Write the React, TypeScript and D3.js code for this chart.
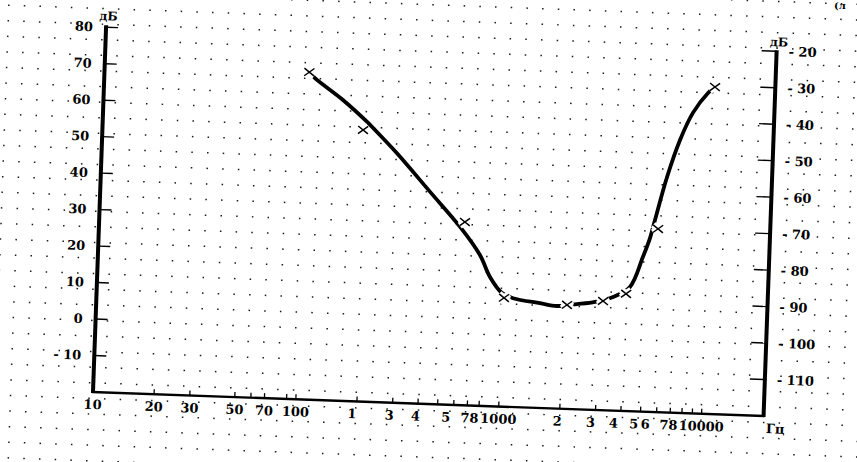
import React from 'react';
import * as d3 from 'd3';

const W = 857;
const H = 462;

// measured points (×)
const markerFreq = [102, 192, 632, 1016, 2080, 3126, 4046, 5662, 10190];
const markerDb = [69.7, 54.4, 30.2, 9.8, 8.5, 9.9, 12.1, 30.2, 69.6];

// smooth fitted curve
const curveFreq = [102, 109, 151, 198, 220, 284, 421, 600, 760, 859, 991, 1125, 1531, 1858, 2328, 2856, 3494, 4214, 4826, 5188, 5449, 6140, 7000, 8020, 9440, 10190];
const curveDb = [69.7, 68.1, 62.4, 56.9, 54.5, 48.4, 38.1, 28.8, 21.3, 15.4, 11.1, 9.8, 8.7, 8.1, 8.8, 9.6, 11.1, 14.0, 22.4, 27.6, 32.6, 44.5, 54.7, 62.3, 67.9, 69.6];

const leftTicks = [-10, 0, 10, 20, 30, 40, 50, 60, 70, 80];
const rightTicks = [-110, -100, -90, -80, -70, -60, -50, -40, -30, -20];
const freqTicks = [20, 30, 50, 60, 70, 90, 100, 200, 300, 400, 500, 600, 700, 800, 1000, 2000, 3000, 4000, 5000, 6000, 7000, 8000, 9000, 10000];
const freqLabelAt = [10, 20, 30, 50, 70, 100, 190, 290, 390, 550, 720, 1000, 1950, 2850, 3700, 4650, 5300, 6900, 10000];
const freqLabelText = ['10', '20', '30', '50', '70', '100', '1', '3', '4', '5', '78', '1000', '2', '3', '4', '5', '6', '78', '10000'];

const FONT = '"DejaVu Serif", serif';

export default function App() {
  const plotW = 671;
  const plotH = 365;
  const x = d3.scaleLog().domain([10, 10 * Math.pow(10, plotW / 203)]).range([0, plotW]);
  const y = d3.scaleLinear().domain([-20, 80]).range([0, -plotH]);
  const yR = d3.scaleLinear().domain([-120, -20]).range([0, -plotH]);

  const curvePts: [number, number][] = curveFreq.map((f, i) => [x(f), y(curveDb[i])]);
  const line = d3.line().curve(d3.curveCatmullRom.alpha(0.5));
  const pathD = line(curvePts) || '';

  const dots: [number, number][] = [];
  for (const u of d3.range(11.2 - 15.7 * 8, 800, 15.7)) {
    for (const v of d3.range(5.7 - 15.6 * 28, 110, 15.6)) {
      dots.push([u, v]);
    }
  }

  const cross = (cx: number, cy: number) =>
    `M${cx - 5},${cy - 3.8}L${cx + 5},${cy + 3.8}M${cx - 5},${cy + 3.8}L${cx + 5},${cy - 3.8}`;

  return (
    <svg width={W} height={H} style={{ position: 'absolute', left: 0, top: 0, background: '#fff' }} fontFamily={FONT}>
      <rect width={W} height={H} fill="#fff" />
      <g transform="translate(93,392) rotate(2.05)">
        {dots.map(([u, v], i) => (
          <rect key={i} x={u} y={v} width={1.5} height={1.5} fill="#1a1a1a" />
        ))}
        {/* curve */}
        <path d={pathD} fill="none" stroke="#000" strokeWidth={3.8} strokeLinecap="round" />
        {/* markers with halo */}
        {markerFreq.map((f, i) => (
          <path key={'h' + i} d={cross(x(f), y(markerDb[i]))} stroke="#fff" strokeWidth={7} />
        ))}
        {markerFreq.map((f, i) => (
          <path key={i} d={cross(x(f), y(markerDb[i]))} stroke="#000" strokeWidth={1.5} fill="none" />
        ))}
        {/* axes */}
        <line x1={-1} y1={0} x2={plotW + 1} y2={0} stroke="#000" strokeWidth={2.4} />
        <line x1={0} y1={1} x2={0} y2={-plotH - 2} stroke="#000" strokeWidth={4} />
        <line x1={plotW} y1={1} x2={plotW} y2={-plotH - 1} stroke="#000" strokeWidth={4} />
        {leftTicks.map((t) => (
          <g key={t}>
            <line x1={0} y1={y(t)} x2={12} y2={y(t)} stroke="#000" strokeWidth={1.4} />
            <text x={-13} y={y(t) + 4.5} textAnchor="end" fontSize={13} fontWeight="bold">
              {t < 0 ? `- ${-t}` : String(t)}
            </text>
          </g>
        ))}
        {rightTicks.map((t) => (
          <g key={t}>
            <line x1={plotW - 15} y1={yR(t)} x2={plotW} y2={yR(t)} stroke="#000" strokeWidth={1.4} />
            <text x={plotW + 12} y={yR(t) + 4.5} textAnchor="start" fontSize={13} fontWeight="bold">
              {`- ${-t}`}
            </text>
          </g>
        ))}
        {freqTicks.map((f) => (
          <line key={f} x1={x(f)} y1={0} x2={x(f)} y2={-5} stroke="#000" strokeWidth={1.3} />
        ))}
        {freqLabelAt.map((f, i) => (
          <text key={i} x={x(f)} y={17} textAnchor="middle" fontSize={13} fontWeight="bold">
            {freqLabelText[i]}
          </text>
        ))}
        <text x={683} y={17} textAnchor="middle" fontSize={13} fontWeight="bold">Гц</text>
        <text x={2} y={-372} textAnchor="middle" fontSize={12} fontWeight="bold">дБ</text>
        <text x={673} y={-370} textAnchor="middle" fontSize={12} fontWeight="bold">дБ</text>
      </g>
      <text x={834} y={9} fontSize={10} fontWeight="bold">(л</text>
    </svg>
  );
}
